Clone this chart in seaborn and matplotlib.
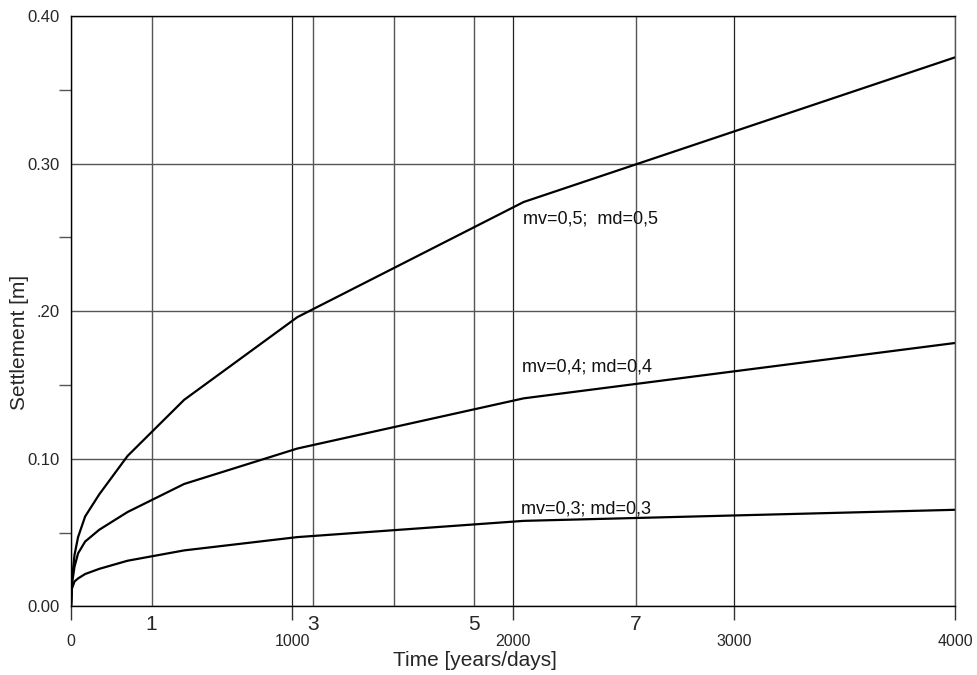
import pandas as pd
import matplotlib
matplotlib.use("Agg")
import matplotlib.pyplot as plt
import seaborn as sns

# ======================
# Data
# ======================

days = [0, 4, 16, 32, 64, 128, 256, 512, 1024, 2048, 4000]

settle_05 = [0, 0.018, 0.035, 0.047, 0.061, 0.076, 0.102, 0.140, 0.196, 0.274, 0.372]
settle_04 = [0, 0.015, 0.027, 0.036, 0.044, 0.052, 0.064, 0.083, 0.107, 0.141, 0.1785]
settle_03 = [0, 0.012, 0.017, 0.019, 0.022, 0.0255, 0.031, 0.038, 0.047, 0.058, 0.0655]

curve_labels = ["mv=0,5;  md=0,5", "mv=0,4; md=0,4", "mv=0,3; md=0,3"]
label_pos = [(2045, 0.2625), (2040, 0.162), (2035, 0.066)]

day_ticks = [0, 1000, 2000, 3000, 4000]
year_grid = [1, 3, 4, 5, 7]
year_labels = ["1", "3", "", "5", "7"]

y_ticks = [0.0, 0.1, 0.2, 0.3, 0.4]
y_labels = ["0.00", "0.10", ".20", "0.30", "0.40"]
y_minor = [0.05, 0.15, 0.25, 0.35]

df = pd.concat([
    pd.DataFrame({"days": days, "settlement": s, "case": c})
    for s, c in zip([settle_05, settle_04, settle_03], curve_labels)
])

# ======================
# Style
# ======================

sns.set_style("white")
plt.rcParams["font.family"] = ["Liberation Sans", "DejaVu Sans"]

fig = plt.figure(figsize=(9.78, 6.75), dpi=100)
ax = fig.add_axes([0.0726, 0.1015, 0.904, 0.8748])

for case in curve_labels:
    sns.lineplot(data=df[df["case"] == case], x="days", y="settlement",
                 color="black", linewidth=1.6, estimator=None, sort=False, ax=ax)

for text, (x, y) in zip(curve_labels, label_pos):
    ax.text(x, y, text, ha="left", va="center", fontsize=13, color="#111111")

ax.set_xlim(0, 4000)
ax.set_ylim(0, 0.40)

# x axis: days as major ticks, years as minor ticks
ax.set_xticks(day_ticks)
ax.set_xticklabels([str(d) for d in day_ticks], fontsize=11.5)
ax.set_xticks([y * 365 for y in year_grid], minor=True)
ax.set_xticklabels(year_labels, minor=True, fontsize=15)
ax.tick_params(axis="x", which="major", direction="out", length=10, width=1,
               color="#333333", pad=10)
ax.tick_params(axis="x", which="minor", length=0, pad=6)

# y axis
ax.set_yticks(y_ticks)
ax.set_yticklabels(y_labels, fontsize=12)
ax.set_yticks(y_minor, minor=True)
ax.tick_params(axis="y", which="major", length=0, pad=8)
ax.tick_params(axis="y", which="minor", direction="out", length=9, width=1,
               color="#555555")
ax.tick_params(axis="both", which="both", left=True, bottom=True)

# grid
ax.xaxis.grid(True, which="major", color="#222222", linewidth=0.9)
ax.xaxis.grid(True, which="minor", color="#555555", linewidth=1.0)
ax.yaxis.grid(True, which="major", color="#555555", linewidth=1.0)
ax.set_axisbelow(True)

for side in ["left", "bottom", "top", "right"]:
    ax.spines[side].set_visible(True)
    ax.spines[side].set_color("black")
    ax.spines[side].set_linewidth(1.0)
ax.spines["right"].set_color("#555555")

ax.set_xlabel("Time [years/days]", fontsize=15)
ax.set_ylabel("Settlement [m]", fontsize=15)
ax.xaxis.set_label_coords(0.457, -0.075)
ax.yaxis.set_label_coords(-0.0475, 0.448)

fig.savefig("out.png", dpi=100)
